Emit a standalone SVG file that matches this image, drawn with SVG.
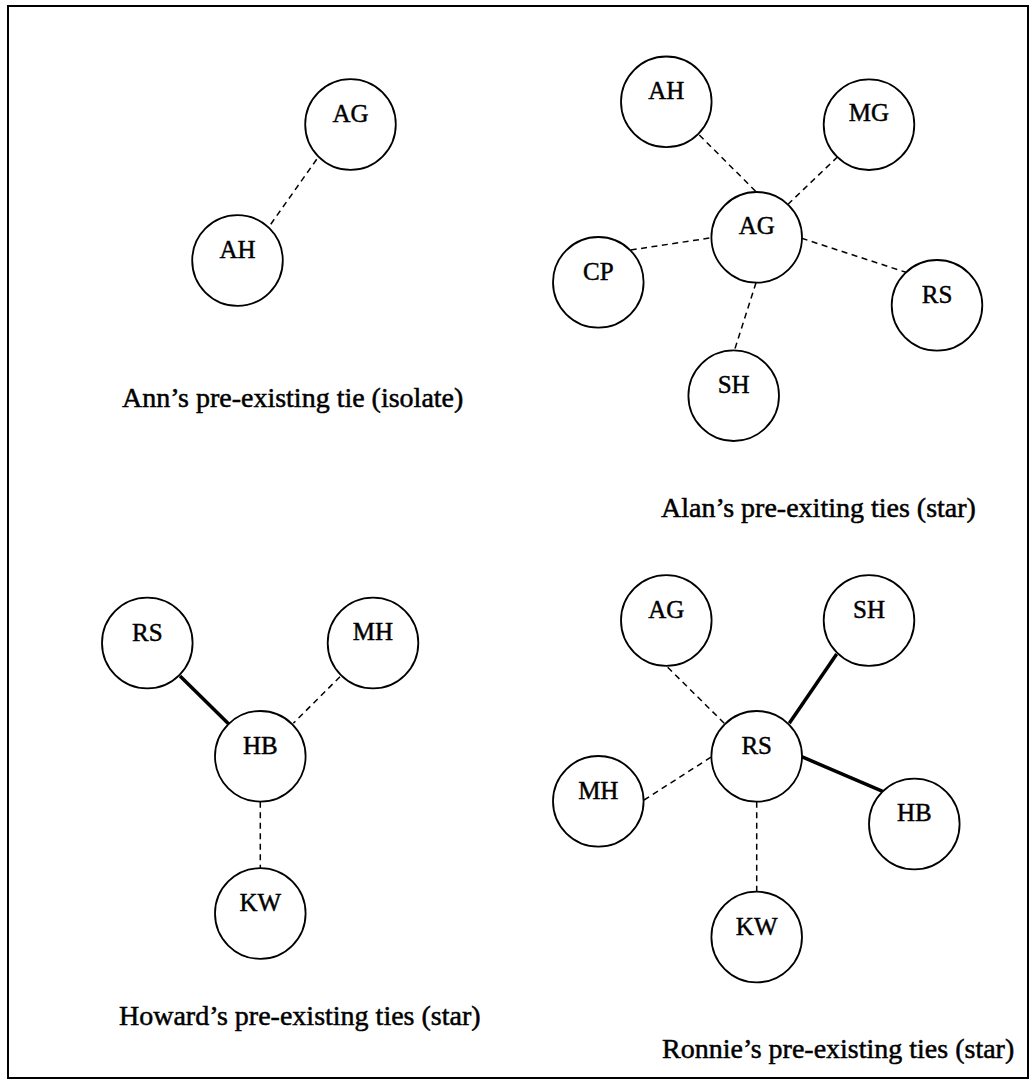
<svg xmlns="http://www.w3.org/2000/svg" width="1036" height="1084" viewBox="0 0 1036 1084">
  <style>
    .node circle { fill: #ffffff; stroke: #000000; stroke-width: 1.8; }
    .node text { font-family: "Liberation Serif", "Times New Roman", serif; font-size: 25px; fill: #000000; stroke: #000000; stroke-width: 0.45; text-anchor: middle; }
    .weak { stroke: #000000; stroke-width: 1.5; stroke-dasharray: 6 4.5; fill: none; }
    .strong { stroke: #000000; stroke-width: 3.5; fill: none; }
    .caption { font-family: "Liberation Serif", "Times New Roman", serif; font-size: 28px; fill: #000000; stroke: #000000; stroke-width: 0.5; }
  </style>
  <rect x="8" y="6" width="1020" height="1072" fill="#ffffff" stroke="#000000" stroke-width="2"/>

  <g id="connectors">
    <!-- Ann -->
    <line class="weak" x1="316.7" y1="159.3" x2="270.7" y2="224.3"/>
    <!-- Alan -->
    <line class="weak" x1="699.3" y1="135" x2="756.7" y2="192.3"/>
    <line class="weak" x1="837.7" y1="156.7" x2="788.3" y2="204"/>
    <line class="weak" x1="630.7" y1="250" x2="711.7" y2="237.7"/>
    <line class="weak" x1="801.7" y1="238.3" x2="906" y2="272.3"/>
    <line class="weak" x1="756" y1="282.7" x2="734.3" y2="350.7"/>
    <!-- Howard -->
    <line class="strong" x1="180" y1="676" x2="229" y2="724.3"/>
    <line class="weak" x1="340" y1="676.7" x2="293.3" y2="723.3"/>
    <line class="weak" x1="260.3" y1="801.7" x2="260.3" y2="868"/>
    <!-- Ronnie -->
    <line class="weak" x1="667.7" y1="667.3" x2="725" y2="724"/>
    <line class="strong" x1="836.7" y1="654" x2="789.3" y2="723.3"/>
    <line class="weak" x1="644" y1="800" x2="711.7" y2="756.7"/>
    <line class="strong" x1="801.7" y1="756.7" x2="883.3" y2="791.7"/>
    <line class="weak" x1="756.7" y1="801.7" x2="756.7" y2="891.7"/>
  </g>

  <!-- Ann's panel -->
  <g id="ann-AG" class="node"><circle cx="350.5" cy="124.5" r="45.3"/><text x="350.5" y="122">AG</text></g>
  <g id="ann-AH" class="node"><circle cx="237.5" cy="260.5" r="45.3"/><text x="237.5" y="258">AH</text></g>
  <text id="caption-ann" class="caption" x="122" y="407">Ann’s pre-existing tie (isolate)</text>

  <!-- Alan's panel -->
  <g id="alan-AH" class="node"><circle cx="666.3" cy="101.8" r="45.3"/><text x="666.3" y="99">AH</text></g>
  <g id="alan-MG" class="node"><circle cx="869" cy="124.7" r="45.3"/><text x="869" y="121">MG</text></g>
  <g id="alan-AG" class="node"><circle cx="756.7" cy="237.3" r="45.3"/><text x="756.7" y="234">AG</text></g>
  <g id="alan-CP" class="node"><circle cx="598.3" cy="282.3" r="45.3"/><text x="598.3" y="280">CP</text></g>
  <g id="alan-RS" class="node"><circle cx="937" cy="305.3" r="45.3"/><text x="937" y="302.7">RS</text></g>
  <g id="alan-SH" class="node"><circle cx="733.7" cy="395.7" r="45.3"/><text x="733.7" y="392.7">SH</text></g>
  <text id="caption-alan" class="caption" x="661" y="517">Alan’s pre-exiting ties (star)</text>

  <!-- Howard's panel -->
  <g id="howard-RS" class="node"><circle cx="147.3" cy="643" r="45.3"/><text x="147.3" y="641">RS</text></g>
  <g id="howard-MH" class="node"><circle cx="373" cy="643" r="45.3"/><text x="373" y="640">MH</text></g>
  <g id="howard-HB" class="node"><circle cx="260.3" cy="756.3" r="45.3"/><text x="260.3" y="753.7">HB</text></g>
  <g id="howard-KW" class="node"><circle cx="260.3" cy="913.5" r="45.3"/><text x="260.3" y="911">KW</text></g>
  <text id="caption-howard" class="caption" x="119" y="1025">Howard’s pre-existing ties (star)</text>

  <!-- Ronnie's panel -->
  <g id="ronnie-AG" class="node"><circle cx="666.3" cy="620.5" r="45.3"/><text x="666.3" y="618">AG</text></g>
  <g id="ronnie-SH" class="node"><circle cx="869" cy="620.5" r="45.3"/><text x="869" y="618">SH</text></g>
  <g id="ronnie-RS" class="node"><circle cx="756.7" cy="756.3" r="45.3"/><text x="756.7" y="753.7">RS</text></g>
  <g id="ronnie-MH" class="node"><circle cx="598.3" cy="801.3" r="45.3"/><text x="598.3" y="798.7">MH</text></g>
  <g id="ronnie-HB" class="node"><circle cx="914.3" cy="824" r="45.3"/><text x="914.3" y="821.3">HB</text></g>
  <g id="ronnie-KW" class="node"><circle cx="756.7" cy="937" r="45.3"/><text x="756.7" y="934.5">KW</text></g>
  <text id="caption-ronnie" class="caption" x="662" y="1058">Ronnie’s pre-existing ties (star)</text>
</svg>
